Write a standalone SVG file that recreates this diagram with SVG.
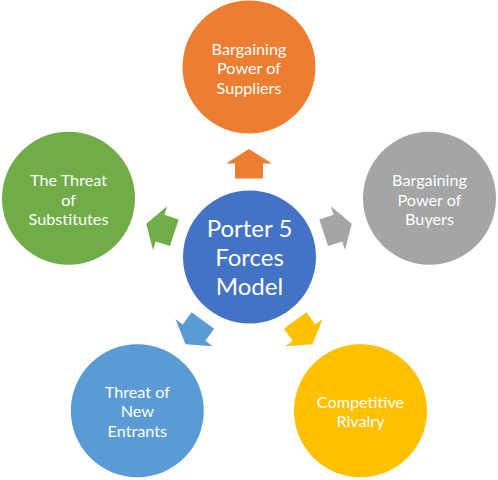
<svg xmlns="http://www.w3.org/2000/svg" xmlns:xlink="http://www.w3.org/1999/xlink" width="498" height="480" viewBox="0 0 498 480">
<style>
.t{font-family:Lato,"Open Sans",sans-serif;font-size:16.2px;fill:#ffffff;text-anchor:middle}
.c{font-family:Lato,"Open Sans",sans-serif;font-size:24px;fill:#ffffff;text-anchor:middle}
</style>
<defs>
<path id="arr" d="M0,-14.5 L23,0 L14,0 L14,15 L-14,15 L-14,0 L-23,0 Z"/>
</defs>
<rect width="498" height="480" fill="#ffffff"/>
<g id="connectors">
<use xlink:href="#arr" fill="#ED7D31" transform="translate(249,257) rotate(0) translate(0,-93.5)"/>
<use xlink:href="#arr" fill="#A5A5A5" transform="translate(249,257) rotate(72) translate(0,-93.5)"/>
<use xlink:href="#arr" fill="#FFC000" transform="translate(249,257) rotate(144) translate(0,-93.5)"/>
<use xlink:href="#arr" fill="#5B9BD5" transform="translate(249,257) rotate(-144) translate(0,-93.5)"/>
<use xlink:href="#arr" fill="#70AD47" transform="translate(249,257) rotate(-72) translate(0,-93.5)"/>
</g>
<g id="center">
<circle cx="249.5" cy="257" r="66.5" fill="#4472C4"/>
<text class="c" x="249.5" y="237">Porter 5</text>
<text class="c" x="249.5" y="266">Forces</text>
<text class="c" x="249.5" y="295">Model</text>
</g>
<g id="suppliers">
<circle cx="249" cy="67" r="66.5" fill="#ED7D31"/>
<text class="t" x="249" y="54.5">Bargaining</text>
<text class="t" x="249" y="74">Power of</text>
<text class="t" x="249" y="93.5">Suppliers</text>
</g>
<g id="buyers">
<circle cx="429.5" cy="198.3" r="66.5" fill="#A5A5A5"/>
<text class="t" x="429.5" y="186">Bargaining</text>
<text class="t" x="429.5" y="205.5">Power of</text>
<text class="t" x="429.5" y="225">Buyers</text>
</g>
<g id="rivalry">
<circle cx="360.5" cy="410.7" r="66.5" fill="#FFC000"/>
<text class="t" x="360.5" y="407.5">Competitive</text>
<text class="t" x="360.5" y="427">Rivalry</text>
</g>
<g id="entrants">
<circle cx="137.3" cy="410.7" r="66.5" fill="#5B9BD5"/>
<text class="t" x="137.3" y="397.5">Threat of</text>
<text class="t" x="137.3" y="417">New</text>
<text class="t" x="137.3" y="436.5">Entrants</text>
</g>
<g id="substitutes">
<circle cx="68.5" cy="198.3" r="66.5" fill="#70AD47"/>
<text class="t" x="68.5" y="186">The Threat</text>
<text class="t" x="68.5" y="205.5">of</text>
<text class="t" x="68.5" y="225">Substitutes</text>
</g>
</svg>
